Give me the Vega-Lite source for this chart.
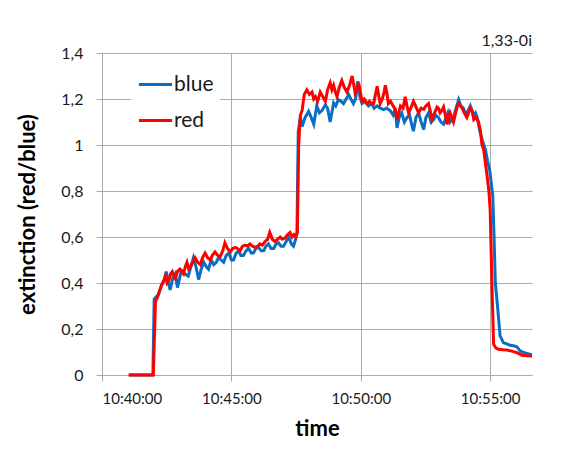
{
  "$schema": "https://vega.github.io/schema/vega-lite/v6.json",
  "width": 430,
  "height": 322,
  "autosize": {"type": "none"},
  "padding": {"left": 102, "top": 53, "right": 36, "bottom": 75},
  "background": "white",
  "title": {"text": "1,33-0i", "anchor": "end", "frame": "group", "font": "Lato", "fontSize": 16, "fontWeight": "normal", "color": "#1a1a1a", "offset": 4, "dy": 8},
  "data": {
    "format": {"parse": {"t": "date:'%H:%M:%S'"}},
    "values": [
      {"s":"blue","t":"10:41:02","v":0},{"s":"blue","t":"10:41:58","v":0},{"s":"blue","t":"10:42:01","v":0.33},{"s":"blue","t":"10:42:06","v":0.34},{"s":"blue","t":"10:42:11","v":0.35},{"s":"blue","t":"10:42:18","v":0.39},{"s":"blue","t":"10:42:24","v":0.41},{"s":"blue","t":"10:42:29","v":0.45},{"s":"blue","t":"10:42:34","v":0.40},{"s":"blue","t":"10:42:38","v":0.37},{"s":"blue","t":"10:42:44","v":0.42},{"s":"blue","t":"10:42:50","v":0.44},{"s":"blue","t":"10:42:55","v":0.38},{"s":"blue","t":"10:43:04","v":0.455},{"s":"blue","t":"10:43:12","v":0.44},{"s":"blue","t":"10:43:20","v":0.43},{"s":"blue","t":"10:43:26","v":0.47},{"s":"blue","t":"10:43:32","v":0.51},{"s":"blue","t":"10:43:38","v":0.47},{"s":"blue","t":"10:43:44","v":0.415},{"s":"blue","t":"10:43:50","v":0.46},{"s":"blue","t":"10:43:56","v":0.49},{"s":"blue","t":"10:44:02","v":0.47},{"s":"blue","t":"10:44:07","v":0.46},{"s":"blue","t":"10:44:13","v":0.50},{"s":"blue","t":"10:44:19","v":0.48},{"s":"blue","t":"10:44:25","v":0.49},{"s":"blue","t":"10:44:30","v":0.51},{"s":"blue","t":"10:44:36","v":0.50},{"s":"blue","t":"10:44:42","v":0.49},{"s":"blue","t":"10:44:48","v":0.52},{"s":"blue","t":"10:44:54","v":0.53},{"s":"blue","t":"10:45:00","v":0.50},{"s":"blue","t":"10:45:05","v":0.50},{"s":"blue","t":"10:45:11","v":0.53},{"s":"blue","t":"10:45:17","v":0.54},{"s":"blue","t":"10:45:22","v":0.52},{"s":"blue","t":"10:45:28","v":0.52},{"s":"blue","t":"10:45:34","v":0.54},{"s":"blue","t":"10:45:40","v":0.55},{"s":"blue","t":"10:45:46","v":0.53},{"s":"blue","t":"10:45:51","v":0.53},{"s":"blue","t":"10:45:57","v":0.55},{"s":"blue","t":"10:46:03","v":0.555},{"s":"blue","t":"10:46:09","v":0.54},{"s":"blue","t":"10:46:15","v":0.54},{"s":"blue","t":"10:46:20","v":0.56},{"s":"blue","t":"10:46:26","v":0.57},{"s":"blue","t":"10:46:32","v":0.55},{"s":"blue","t":"10:46:38","v":0.55},{"s":"blue","t":"10:46:44","v":0.57},{"s":"blue","t":"10:46:49","v":0.575},{"s":"blue","t":"10:46:55","v":0.56},{"s":"blue","t":"10:47:01","v":0.56},{"s":"blue","t":"10:47:07","v":0.58},{"s":"blue","t":"10:47:13","v":0.60},{"s":"blue","t":"10:47:19","v":0.57},{"s":"blue","t":"10:47:24","v":0.56},{"s":"blue","t":"10:47:29","v":0.59},{"s":"blue","t":"10:47:32","v":0.62},{"s":"blue","t":"10:47:35","v":1.06},{"s":"blue","t":"10:47:40","v":1.12},{"s":"blue","t":"10:47:44","v":1.08},{"s":"blue","t":"10:47:51","v":1.12},{"s":"blue","t":"10:47:59","v":1.146},{"s":"blue","t":"10:48:05","v":1.12},{"s":"blue","t":"10:48:11","v":1.09},{"s":"blue","t":"10:48:18","v":1.17},{"s":"blue","t":"10:48:24","v":1.14},{"s":"blue","t":"10:48:30","v":1.15},{"s":"blue","t":"10:48:38","v":1.175},{"s":"blue","t":"10:48:43","v":1.16},{"s":"blue","t":"10:48:49","v":1.10},{"s":"blue","t":"10:48:57","v":1.183},{"s":"blue","t":"10:49:02","v":1.17},{"s":"blue","t":"10:49:08","v":1.197},{"s":"blue","t":"10:49:14","v":1.19},{"s":"blue","t":"10:49:20","v":1.18},{"s":"blue","t":"10:49:26","v":1.20},{"s":"blue","t":"10:49:32","v":1.219},{"s":"blue","t":"10:49:37","v":1.20},{"s":"blue","t":"10:49:43","v":1.18},{"s":"blue","t":"10:49:48","v":1.20},{"s":"blue","t":"10:49:53","v":1.277},{"s":"blue","t":"10:49:58","v":1.21},{"s":"blue","t":"10:50:03","v":1.18},{"s":"blue","t":"10:50:10","v":1.19},{"s":"blue","t":"10:50:18","v":1.17},{"s":"blue","t":"10:50:25","v":1.18},{"s":"blue","t":"10:50:31","v":1.16},{"s":"blue","t":"10:50:38","v":1.17},{"s":"blue","t":"10:50:45","v":1.16},{"s":"blue","t":"10:50:53","v":1.154},{"s":"blue","t":"10:51:00","v":1.16},{"s":"blue","t":"10:51:08","v":1.15},{"s":"blue","t":"10:51:15","v":1.13},{"s":"blue","t":"10:51:20","v":1.16},{"s":"blue","t":"10:51:24","v":1.074},{"s":"blue","t":"10:51:29","v":1.12},{"s":"blue","t":"10:51:35","v":1.14},{"s":"blue","t":"10:51:41","v":1.10},{"s":"blue","t":"10:51:47","v":1.12},{"s":"blue","t":"10:51:53","v":1.13},{"s":"blue","t":"10:51:58","v":1.09},{"s":"blue","t":"10:52:02","v":1.06},{"s":"blue","t":"10:52:08","v":1.12},{"s":"blue","t":"10:52:14","v":1.14},{"s":"blue","t":"10:52:20","v":1.10},{"s":"blue","t":"10:52:26","v":1.067},{"s":"blue","t":"10:52:31","v":1.12},{"s":"blue","t":"10:52:37","v":1.14},{"s":"blue","t":"10:52:43","v":1.10},{"s":"blue","t":"10:52:49","v":1.11},{"s":"blue","t":"10:52:54","v":1.13},{"s":"blue","t":"10:53:00","v":1.12},{"s":"blue","t":"10:53:06","v":1.10},{"s":"blue","t":"10:53:12","v":1.09},{"s":"blue","t":"10:53:18","v":1.12},{"s":"blue","t":"10:53:22","v":1.14},{"s":"blue","t":"10:53:27","v":1.10},{"s":"blue","t":"10:53:35","v":1.12},{"s":"blue","t":"10:53:41","v":1.16},{"s":"blue","t":"10:53:47","v":1.197},{"s":"blue","t":"10:53:52","v":1.17},{"s":"blue","t":"10:53:58","v":1.16},{"s":"blue","t":"10:54:04","v":1.13},{"s":"blue","t":"10:54:09","v":1.15},{"s":"blue","t":"10:54:14","v":1.17},{"s":"blue","t":"10:54:18","v":1.15},{"s":"blue","t":"10:54:22","v":1.13},{"s":"blue","t":"10:54:26","v":1.14},{"s":"blue","t":"10:54:30","v":1.12},{"s":"blue","t":"10:54:36","v":1.06},{"s":"blue","t":"10:54:42","v":1.02},{"s":"blue","t":"10:54:49","v":0.98},{"s":"blue","t":"10:54:54","v":0.93},{"s":"blue","t":"10:54:59","v":0.89},{"s":"blue","t":"10:55:06","v":0.78},{"s":"blue","t":"10:55:09","v":0.60},{"s":"blue","t":"10:55:12","v":0.40},{"s":"blue","t":"10:55:17","v":0.30},{"s":"blue","t":"10:55:23","v":0.17},{"s":"blue","t":"10:55:31","v":0.14},{"s":"blue","t":"10:55:39","v":0.135},{"s":"blue","t":"10:55:46","v":0.129},{"s":"blue","t":"10:55:54","v":0.127},{"s":"blue","t":"10:56:02","v":0.123},{"s":"blue","t":"10:56:10","v":0.104},{"s":"blue","t":"10:56:18","v":0.098},{"s":"blue","t":"10:56:25","v":0.094},{"s":"blue","t":"10:56:32","v":0.090},{"s":"blue","t":"10:56:37","v":0.088},
      {"s":"red","t":"10:41:02","v":0},{"s":"red","t":"10:41:59","v":0},{"s":"red","t":"10:42:04","v":0.32},{"s":"red","t":"10:42:09","v":0.34},{"s":"red","t":"10:42:14","v":0.37},{"s":"red","t":"10:42:19","v":0.394},{"s":"red","t":"10:42:23","v":0.41},{"s":"red","t":"10:42:27","v":0.43},{"s":"red","t":"10:42:31","v":0.40},{"s":"red","t":"10:42:35","v":0.41},{"s":"red","t":"10:42:39","v":0.44},{"s":"red","t":"10:42:43","v":0.45},{"s":"red","t":"10:42:47","v":0.43},{"s":"red","t":"10:42:50","v":0.42},{"s":"red","t":"10:42:55","v":0.45},{"s":"red","t":"10:43:00","v":0.46},{"s":"red","t":"10:43:05","v":0.45},{"s":"red","t":"10:43:09","v":0.44},{"s":"red","t":"10:43:13","v":0.47},{"s":"red","t":"10:43:17","v":0.49},{"s":"red","t":"10:43:21","v":0.46},{"s":"red","t":"10:43:25","v":0.47},{"s":"red","t":"10:43:30","v":0.49},{"s":"red","t":"10:43:36","v":0.51},{"s":"red","t":"10:43:42","v":0.49},{"s":"red","t":"10:43:48","v":0.48},{"s":"red","t":"10:43:53","v":0.51},{"s":"red","t":"10:43:59","v":0.53},{"s":"red","t":"10:44:05","v":0.51},{"s":"red","t":"10:44:11","v":0.50},{"s":"red","t":"10:44:16","v":0.52},{"s":"red","t":"10:44:22","v":0.535},{"s":"red","t":"10:44:28","v":0.52},{"s":"red","t":"10:44:34","v":0.515},{"s":"red","t":"10:44:40","v":0.54},{"s":"red","t":"10:44:45","v":0.575},{"s":"red","t":"10:44:51","v":0.55},{"s":"red","t":"10:44:57","v":0.535},{"s":"red","t":"10:45:03","v":0.55},{"s":"red","t":"10:45:09","v":0.555},{"s":"red","t":"10:45:14","v":0.55},{"s":"red","t":"10:45:20","v":0.54},{"s":"red","t":"10:45:26","v":0.56},{"s":"red","t":"10:45:32","v":0.565},{"s":"red","t":"10:45:37","v":0.56},{"s":"red","t":"10:45:43","v":0.57},{"s":"red","t":"10:45:49","v":0.56},{"s":"red","t":"10:45:55","v":0.555},{"s":"red","t":"10:46:01","v":0.56},{"s":"red","t":"10:46:06","v":0.57},{"s":"red","t":"10:46:12","v":0.565},{"s":"red","t":"10:46:18","v":0.58},{"s":"red","t":"10:46:24","v":0.59},{"s":"red","t":"10:46:29","v":0.62},{"s":"red","t":"10:46:35","v":0.59},{"s":"red","t":"10:46:41","v":0.58},{"s":"red","t":"10:46:47","v":0.59},{"s":"red","t":"10:46:53","v":0.60},{"s":"red","t":"10:46:58","v":0.59},{"s":"red","t":"10:47:04","v":0.595},{"s":"red","t":"10:47:10","v":0.61},{"s":"red","t":"10:47:16","v":0.62},{"s":"red","t":"10:47:21","v":0.60},{"s":"red","t":"10:47:25","v":0.61},{"s":"red","t":"10:47:29","v":0.60},{"s":"red","t":"10:47:33","v":0.62},{"s":"red","t":"10:47:36","v":1.00},{"s":"red","t":"10:47:40","v":1.13},{"s":"red","t":"10:47:44","v":1.15},{"s":"red","t":"10:47:49","v":1.22},{"s":"red","t":"10:47:55","v":1.24},{"s":"red","t":"10:48:01","v":1.22},{"s":"red","t":"10:48:07","v":1.23},{"s":"red","t":"10:48:11","v":1.20},{"s":"red","t":"10:48:15","v":1.21},{"s":"red","t":"10:48:20","v":1.19},{"s":"red","t":"10:48:26","v":1.23},{"s":"red","t":"10:48:32","v":1.21},{"s":"red","t":"10:48:38","v":1.19},{"s":"red","t":"10:48:43","v":1.24},{"s":"red","t":"10:48:49","v":1.27},{"s":"red","t":"10:48:53","v":1.24},{"s":"red","t":"10:48:57","v":1.26},{"s":"red","t":"10:49:01","v":1.23},{"s":"red","t":"10:49:05","v":1.21},{"s":"red","t":"10:49:10","v":1.25},{"s":"red","t":"10:49:16","v":1.28},{"s":"red","t":"10:49:22","v":1.25},{"s":"red","t":"10:49:28","v":1.23},{"s":"red","t":"10:49:34","v":1.26},{"s":"red","t":"10:49:40","v":1.30},{"s":"red","t":"10:49:44","v":1.26},{"s":"red","t":"10:49:47","v":1.225},{"s":"red","t":"10:49:51","v":1.24},{"s":"red","t":"10:49:55","v":1.27},{"s":"red","t":"10:49:59","v":1.23},{"s":"red","t":"10:50:03","v":1.19},{"s":"red","t":"10:50:08","v":1.20},{"s":"red","t":"10:50:14","v":1.18},{"s":"red","t":"10:50:20","v":1.19},{"s":"red","t":"10:50:25","v":1.18},{"s":"red","t":"10:50:30","v":1.18},{"s":"red","t":"10:50:34","v":1.22},{"s":"red","t":"10:50:38","v":1.255},{"s":"red","t":"10:50:42","v":1.21},{"s":"red","t":"10:50:45","v":1.18},{"s":"red","t":"10:50:50","v":1.20},{"s":"red","t":"10:50:54","v":1.23},{"s":"red","t":"10:50:57","v":1.26},{"s":"red","t":"10:51:01","v":1.22},{"s":"red","t":"10:51:04","v":1.18},{"s":"red","t":"10:51:09","v":1.19},{"s":"red","t":"10:51:15","v":1.17},{"s":"red","t":"10:51:20","v":1.155},{"s":"red","t":"10:51:24","v":1.11},{"s":"red","t":"10:51:28","v":1.14},{"s":"red","t":"10:51:32","v":1.17},{"s":"red","t":"10:51:38","v":1.16},{"s":"red","t":"10:51:43","v":1.21},{"s":"red","t":"10:51:47","v":1.17},{"s":"red","t":"10:51:51","v":1.14},{"s":"red","t":"10:51:56","v":1.16},{"s":"red","t":"10:52:02","v":1.19},{"s":"red","t":"10:52:07","v":1.17},{"s":"red","t":"10:52:14","v":1.14},{"s":"red","t":"10:52:20","v":1.16},{"s":"red","t":"10:52:26","v":1.155},{"s":"red","t":"10:52:31","v":1.17},{"s":"red","t":"10:52:37","v":1.18},{"s":"red","t":"10:52:41","v":1.15},{"s":"red","t":"10:52:45","v":1.11},{"s":"red","t":"10:52:51","v":1.14},{"s":"red","t":"10:52:57","v":1.165},{"s":"red","t":"10:53:00","v":1.16},{"s":"red","t":"10:53:04","v":1.14},{"s":"red","t":"10:53:08","v":1.15},{"s":"red","t":"10:53:12","v":1.165},{"s":"red","t":"10:53:16","v":1.13},{"s":"red","t":"10:53:20","v":1.09},{"s":"red","t":"10:53:24","v":1.12},{"s":"red","t":"10:53:27","v":1.14},{"s":"red","t":"10:53:31","v":1.12},{"s":"red","t":"10:53:35","v":1.10},{"s":"red","t":"10:53:40","v":1.14},{"s":"red","t":"10:53:44","v":1.17},{"s":"red","t":"10:53:47","v":1.18},{"s":"red","t":"10:53:51","v":1.17},{"s":"red","t":"10:53:55","v":1.16},{"s":"red","t":"10:54:00","v":1.14},{"s":"red","t":"10:54:06","v":1.12},{"s":"red","t":"10:54:10","v":1.14},{"s":"red","t":"10:54:14","v":1.16},{"s":"red","t":"10:54:18","v":1.15},{"s":"red","t":"10:54:22","v":1.11},{"s":"red","t":"10:54:28","v":1.12},{"s":"red","t":"10:54:33","v":1.10},{"s":"red","t":"10:54:37","v":1.067},{"s":"red","t":"10:54:41","v":1.00},{"s":"red","t":"10:54:45","v":0.98},{"s":"red","t":"10:54:49","v":0.92},{"s":"red","t":"10:54:53","v":0.864},{"s":"red","t":"10:54:57","v":0.80},{"s":"red","t":"10:55:00","v":0.72},{"s":"red","t":"10:55:04","v":0.40},{"s":"red","t":"10:55:08","v":0.133},{"s":"red","t":"10:55:13","v":0.118},{"s":"red","t":"10:55:19","v":0.112},{"s":"red","t":"10:55:29","v":0.110},{"s":"red","t":"10:55:39","v":0.109},{"s":"red","t":"10:55:50","v":0.104},{"s":"red","t":"10:56:02","v":0.097},{"s":"red","t":"10:56:14","v":0.086},{"s":"red","t":"10:56:25","v":0.084},{"s":"red","t":"10:56:37","v":0.083}
    ]
  },
  "encoding": {
    "x": {
      "field": "t", "type": "temporal",
      "scale": {"domain": [{"year": 1900, "month": 1, "date": 1, "hours": 10, "minutes": 40, "seconds": 0}, {"year": 1900, "month": 1, "date": 1, "hours": 10, "minutes": 56, "seconds": 37}], "nice": false},
      "axis": {
        "title": "time",
        "values": [
          {"year": 1900, "month": 1, "date": 1, "hours": 10, "minutes": 40, "seconds": 0},
          {"year": 1900, "month": 1, "date": 1, "hours": 10, "minutes": 45, "seconds": 0},
          {"year": 1900, "month": 1, "date": 1, "hours": 10, "minutes": 50, "seconds": 0},
          {"year": 1900, "month": 1, "date": 1, "hours": 10, "minutes": 55, "seconds": 0}
        ],
        "format": "%H:%M:%S",
        "labelPadding": 10,
        "titlePadding": 12,
        "titleFontSize": 22
      }
    },
    "y": {
      "field": "v", "type": "quantitative",
      "scale": {"domain": [0, 1.4], "nice": false},
      "axis": {
        "title": "extinction (red/blue)",
        "values": [0, 0.2, 0.4, 0.6, 0.8, 1, 1.2, 1.4],
        "labelExpr": "replace(format(datum.value, '~g'), '.', ',')",
        "labelPadding": 13,
        "labelFontSize": 16,
        "titlePadding": 21,
        "titleFontSize": 22
      }
    },
    "color": {
      "field": "s", "type": "nominal",
      "scale": {"domain": ["blue", "red"], "range": ["#0a6fc2", "#ff0000"]},
      "legend": {
        "title": null,
        "orient": "none",
        "legendX": 29,
        "legendY": 7,
        "fillColor": "white",
        "padding": 6,
        "symbolType": "stroke",
        "symbolSize": 1100,
        "symbolStrokeWidth": 3,
        "labelFontSize": 21,
        "labelFont": "Lato",
        "labelColor": "#1a1a1a",
        "labelOffset": 0,
        "rowPadding": 7
      }
    }
  },
  "layer": [
    {"transform": [{"filter": "datum.s === 'blue'"}], "mark": {"type": "line", "strokeWidth": 3}},
    {"transform": [{"filter": "datum.s === 'red'"}], "mark": {"type": "line", "strokeWidth": 3}}
  ],
  "config": {
    "view": {"stroke": null},
    "font": "Lato",
    "axis": {
      "labelFont": "Lato",
      "labelFontSize": 15,
      "labelColor": "#1a1a1a",
      "titleFont": "Lato",
      "titleFontWeight": "bold",
      "titleColor": "#000000",
      "grid": true,
      "gridColor": "#ababab",
      "gridWidth": 1,
      "domainColor": "#ababab",
      "tickColor": "#ababab",
      "tickSize": 6
    }
  }
}
